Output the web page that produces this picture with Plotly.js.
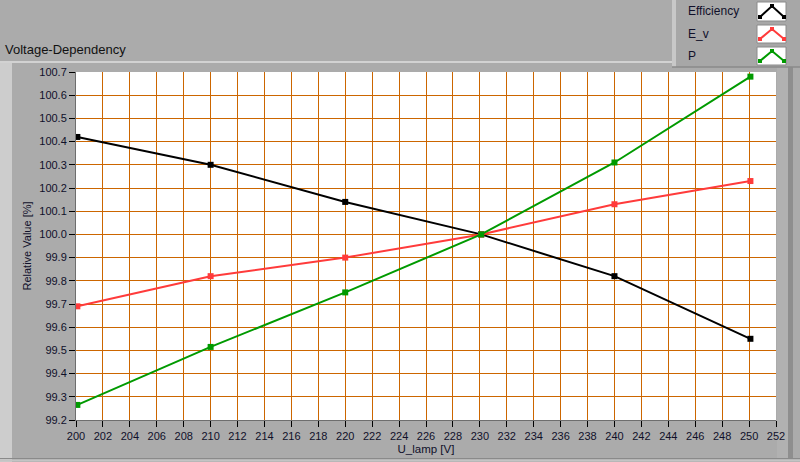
<!DOCTYPE html>
<html>
<head>
<meta charset="utf-8">
<script src="https://cdn.plot.ly/plotly-3.0.1.min.js"></script>
<style>
  html, body { margin: 0; padding: 0; background: #ababab; }
  #chart { width: 800px; height: 462px; }
</style>
</head>
<body>
<div id="chart"></div>
<script>
// ---- data ----
const uLamp = [200.1, 210.0, 220.0, 230.1, 240.0, 250.1];
const efficiency = [100.42, 100.30, 100.14, 100.0, 99.82, 99.55];
const eV = [99.69, 99.82, 99.90, 100.0, 100.13, 100.23];
const power = [99.265, 99.515, 99.75, 100.0, 100.31, 100.68];
const seriesNames = ['Efficiency', 'E_v', 'P'];
const seriesColors = ['#000000', '#ff3b3b', '#009a00'];

// ---- layout geometry (pixels) ----
const W = 800, H = 462, L = 76, R = 776, T = 72, B = 420;
const fx = p => (p - L) / (R - L);
const fy = p => (B - p) / (B - T);

const traces = [efficiency, eV, power].map((vals, i) => ({
  x: uLamp, y: vals, name: seriesNames[i], type: 'scatter', mode: 'lines+markers',
  line: { color: seriesColors[i], width: 2 },
  marker: { symbol: 'square', size: 6, color: seriesColors[i] },
  showlegend: false, hoverinfo: 'x+y+name'
}));

const shapes = [];
const annotations = [];
function rect(x0, y0, x1, y1, fill, line, layer) {
  shapes.push({ type: 'rect', xref: 'paper', yref: 'paper', x0: fx(x0), x1: fx(x1), y0: fy(y1), y1: fy(y0),
    fillcolor: fill, line: line || { width: 0 }, layer: layer || 'below' });
}
function hline(x0, x1, y, color, w) {
  shapes.push({ type: 'line', xref: 'paper', yref: 'paper', x0: fx(x0), x1: fx(x1), y0: fy(y), y1: fy(y),
    line: { color: color, width: w }, layer: 'below' });
}
// frame decorations
rect(0, 62, 12, 462, '#cdcdcd');
hline(0, 672, 62, '#d2d2d2', 2);
rect(777, 62, 788, 458, '#b1b1b1');
rect(788, 0, 793, 458, '#8e8e8e');
hline(0, 800, 458.5, '#8a8a8a', 1);
hline(0, 800, 460.5, '#c4c4c4', 2);
// legend panel
rect(672, 0, 800, 67, '#a7a7a7');
rect(672, 0, 676, 67, '#c8c8c8');
hline(672, 800, 67, '#8a8a8a', 1.5);
const boxes = [[2, 21], [25, 43], [47, 65]];
boxes.forEach((b, i) => {
  rect(757, b[0], 786, b[1], '#ffffff', { color: '#8a8a8a', width: 1 }, 'above');
  const yb = b[1] - 4, yt = b[0] + 4;
  const pts = [[760, yb], [772, yt], [784, yb]];
  shapes.push({ type: 'path', xref: 'paper', yref: 'paper',
    path: 'M ' + pts.map(p => fx(p[0]) + ',' + fy(p[1])).join(' L '),
    line: { color: seriesColors[i], width: 2 }, layer: 'above' });
  pts.forEach(p => {
    shapes.push({ type: 'rect', xref: 'paper', yref: 'paper', x0: fx(p[0] - 2), x1: fx(p[0] + 2),
      y0: fy(p[1] + 2), y1: fy(p[1] - 2), fillcolor: seriesColors[i], line: { width: 0 }, layer: 'above' });
  });
  annotations.push({ xref: 'paper', yref: 'paper', x: fx(686), y: fy((b[0] + b[1]) / 2), xanchor: 'left', yanchor: 'middle',
    text: seriesNames[i], showarrow: false, font: { family: 'Liberation Sans, Arial', size: 12, color: '#10102a' } });
});
annotations.push({ xref: 'paper', yref: 'paper', x: fx(3), y: fy(50), xanchor: 'left', yanchor: 'middle',
  text: 'Voltage-Dependency', showarrow: false, font: { family: 'Liberation Sans, Arial', size: 13, color: '#111111' } });

const tickFont = { family: 'Liberation Sans, Arial', size: 11, color: '#10102a' };
const layout = {
  width: W, height: H,
  margin: { l: L, r: W - R, t: T, b: H - B, pad: 0 },
  paper_bgcolor: '#ababab', plot_bgcolor: '#ffffff',
  xaxis: {
    range: [200, 252], tick0: 200, dtick: 2, showgrid: true, gridcolor: '#cc6600', gridwidth: 1,
    ticks: 'outside', ticklen: 6, tickcolor: '#000', tickwidth: 1, zeroline: false,
    showline: true, linecolor: '#6e6e6e', linewidth: 1,
    tickfont: tickFont, title: { text: 'U_lamp [V]', font: { family: 'Liberation Sans, Arial', size: 11.5, color: '#10102a' }, standoff: 3 }
  },
  yaxis: {
    range: [99.2, 100.7], tick0: 99.2, dtick: 0.1, tickformat: '.1f', showgrid: true, gridcolor: '#cc6600', gridwidth: 1,
    ticks: 'outside', ticklen: 6, tickcolor: '#000', tickwidth: 1, zeroline: false,
    showline: true, linecolor: '#6e6e6e', linewidth: 1,
    tickfont: tickFont, title: { text: 'Relative Value [%]', font: { family: 'Liberation Sans, Arial', size: 11, color: '#10102a' }, standoff: 5 }
  },
  shapes: shapes, annotations: annotations, showlegend: false
};
Plotly.newPlot('chart', traces, layout, { displayModeBar: false, staticPlot: true });
</script>
</body>
</html>
